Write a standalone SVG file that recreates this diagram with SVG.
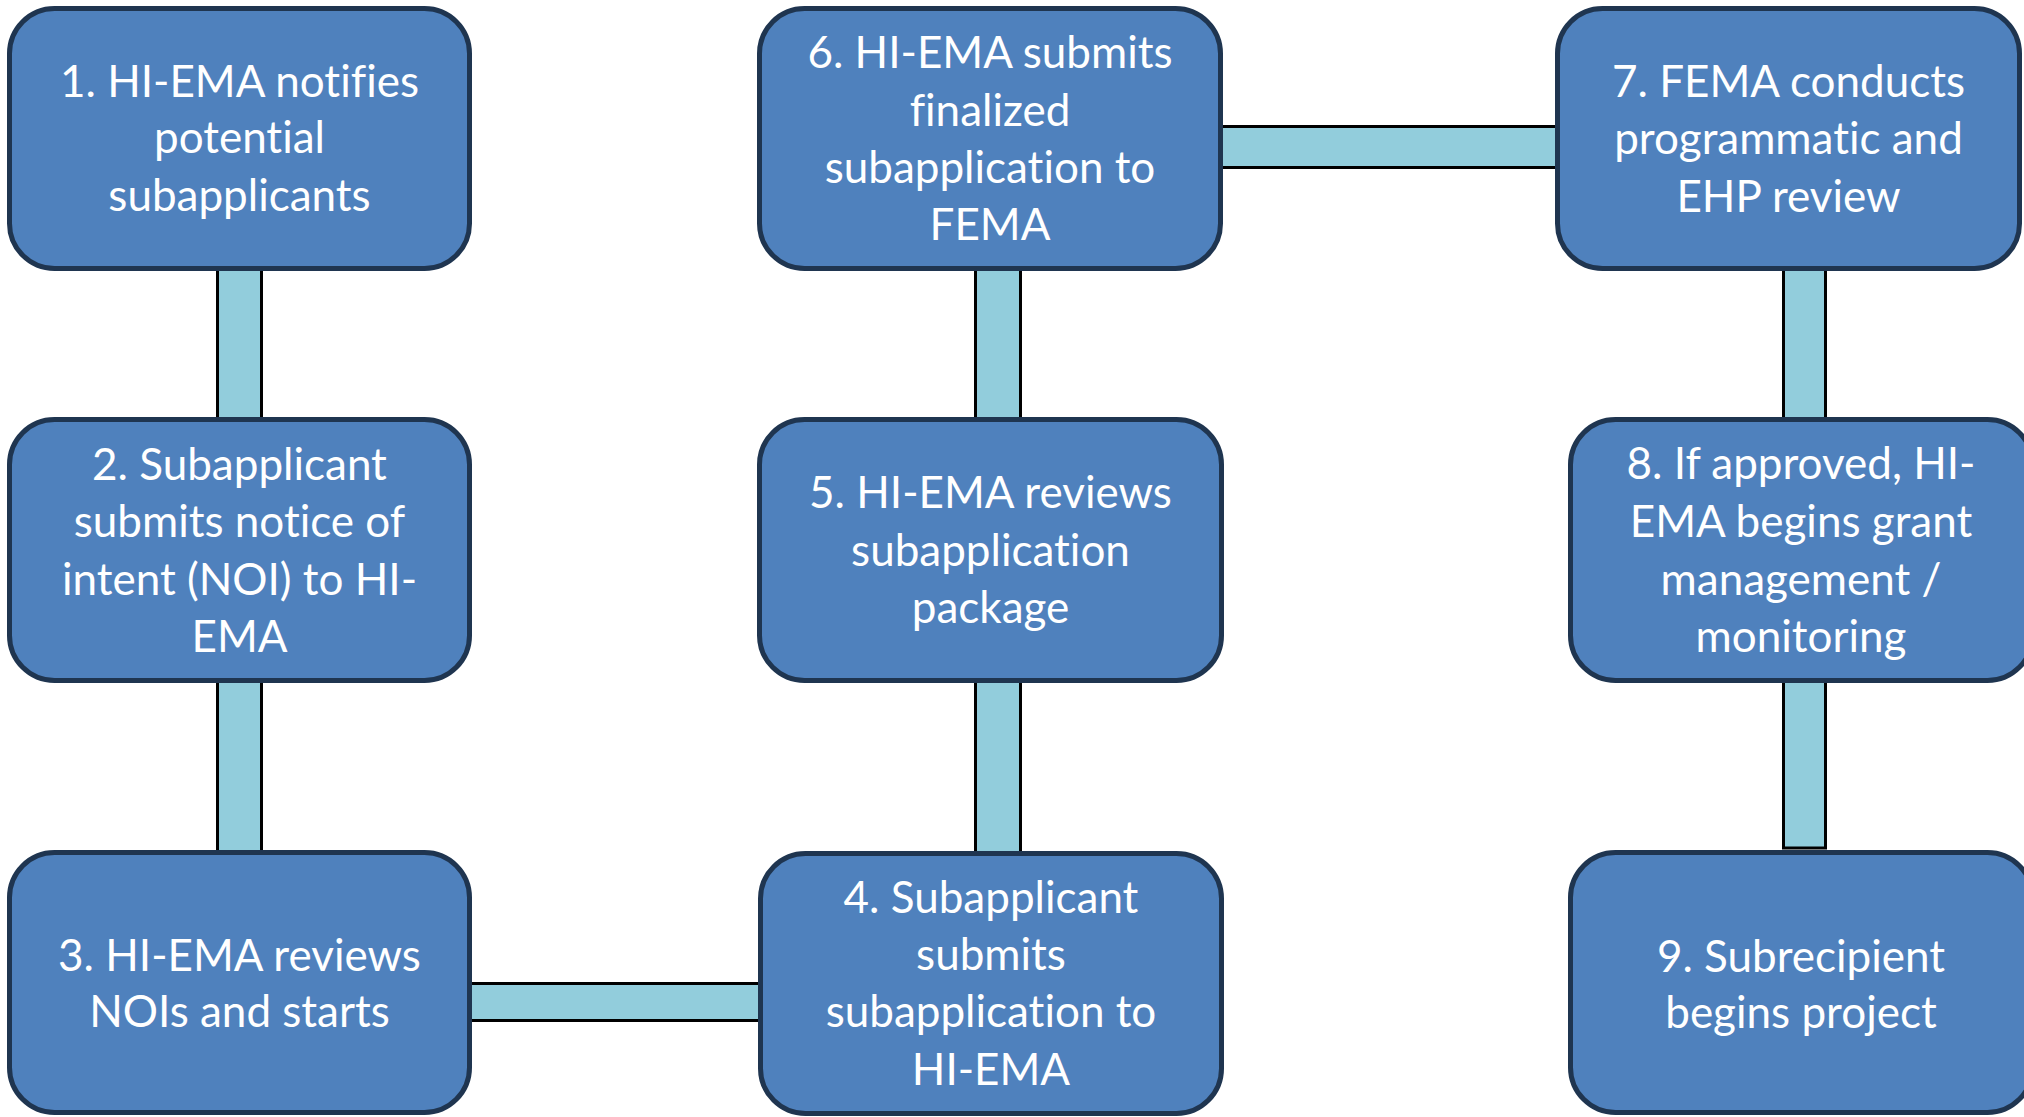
<svg xmlns="http://www.w3.org/2000/svg" width="2024" height="1117" viewBox="0 0 2024 1117">
<style>
.conn{fill:#92CDDC;stroke:#000000;stroke-width:3}
.box{fill:#4F81BD;stroke:#1F3550;stroke-width:5}
.lbl{font-family:Lato,"Open Sans","Liberation Sans",sans-serif;font-size:44px;fill:#FFFFFF;text-anchor:middle;font-variant-ligatures:none;font-feature-settings:"liga" 0}
</style>
<rect width="2024" height="1117" fill="#FFFFFF"/>
<g id="connectors">
<rect class="conn" x="217.5" y="266" width="44" height="154"/>
<rect class="conn" x="217.5" y="680" width="44" height="174"/>
<rect class="conn" x="468" y="983.5" width="293" height="37"/>
<rect class="conn" x="975.5" y="266" width="45" height="154"/>
<rect class="conn" x="975.5" y="680" width="45" height="174"/>
<rect class="conn" x="1220" y="126.5" width="338" height="41"/>
<rect class="conn" x="1783.5" y="266" width="42" height="154"/>
<rect class="conn" x="1783.5" y="680" width="42" height="168"/>
</g>
<g id="node1"><rect class="box" x="9.5" y="8.5" width="460" height="260" rx="45"/>
<text class="lbl"><tspan x="239.5" y="97">1. HI-EMA notifies</tspan><tspan x="239.5" y="153">potential</tspan><tspan x="239.5" y="211">subapplicants</tspan></text></g>
<g id="node2"><rect class="box" x="9.5" y="419.5" width="460" height="261" rx="45"/>
<text class="lbl"><tspan x="239.5" y="480">2. Subapplicant</tspan><tspan x="239.5" y="537">submits notice of</tspan><tspan x="239.5" y="595">intent (NOI) to HI-</tspan><tspan x="239.5" y="652">EMA</tspan></text></g>
<g id="node3"><rect class="box" x="9.5" y="852.5" width="460" height="260" rx="45"/>
<text class="lbl"><tspan x="239.5" y="971">3. HI-EMA reviews</tspan><tspan x="239.5" y="1027">NOIs and starts</tspan></text></g>
<g id="node4"><rect class="box" x="760.5" y="853.5" width="461" height="260" rx="45"/>
<text class="lbl"><tspan x="991" y="913">4. Subapplicant</tspan><tspan x="991" y="970">submits</tspan><tspan x="991" y="1027">subapplication to</tspan><tspan x="991" y="1085">HI-EMA</tspan></text></g>
<g id="node5"><rect class="box" x="759.5" y="419.5" width="462" height="261" rx="45"/>
<text class="lbl"><tspan x="990.5" y="508">5. HI-EMA reviews</tspan><tspan x="990.5" y="566">subapplication</tspan><tspan x="990.5" y="623">package</tspan></text></g>
<g id="node6"><rect class="box" x="759.5" y="8.5" width="461" height="260" rx="45"/>
<text class="lbl"><tspan x="990" y="68">6. HI-EMA submits</tspan><tspan x="990" y="126">finalized</tspan><tspan x="990" y="183">subapplication to</tspan><tspan x="990" y="240">FEMA</tspan></text></g>
<g id="node7"><rect class="box" x="1557.5" y="8.5" width="462" height="260" rx="45"/>
<text class="lbl"><tspan x="1788.5" y="97">7. FEMA conducts</tspan><tspan x="1788.5" y="154">programmatic and</tspan><tspan x="1788.5" y="212">EHP review</tspan></text></g>
<g id="node8"><rect class="box" x="1570.5" y="419.5" width="462" height="261" rx="45"/>
<text class="lbl"><tspan x="1801" y="479">8. If approved, HI-</tspan><tspan x="1801" y="537">EMA begins grant</tspan><tspan x="1801" y="595">management /</tspan><tspan x="1801" y="652">monitoring</tspan></text></g>
<g id="node9"><rect class="box" x="1570.5" y="852.5" width="462" height="260" rx="45"/>
<text class="lbl"><tspan x="1801" y="972">9. Subrecipient</tspan><tspan x="1801" y="1028">begins project</tspan></text></g>
</svg>
